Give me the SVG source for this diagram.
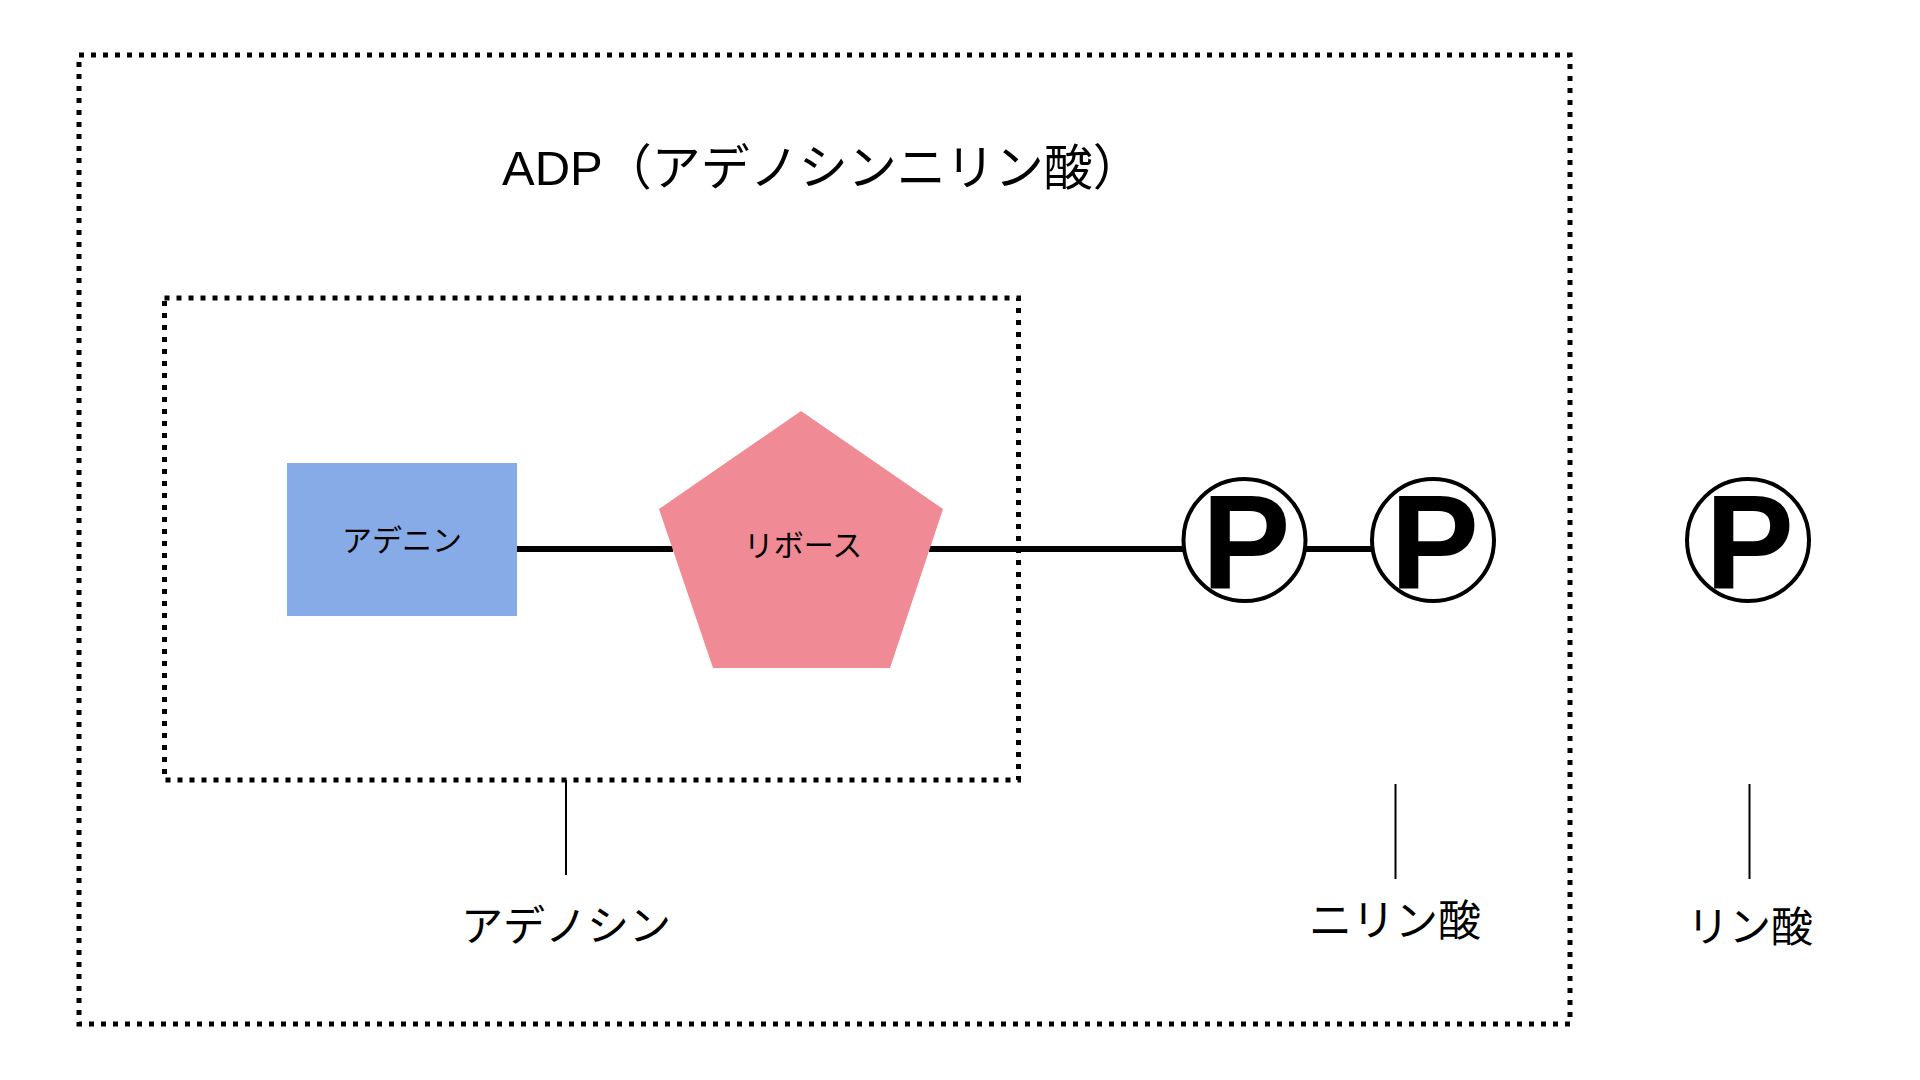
<svg xmlns="http://www.w3.org/2000/svg" width="1920" height="1080" viewBox="0 0 1920 1080">
<style>
.dot{fill:none;stroke:#000;stroke-width:5;stroke-dasharray:5 7}
.edge{stroke:#000;stroke-width:6;fill:none}
.tick{stroke:#000;stroke-width:2;fill:none}
.jp{font-family:"Liberation Sans","Noto Sans CJK JP",sans-serif;fill:#000}
.pc{fill:#fff;stroke:#000;stroke-width:4}
.pt{font-family:"Liberation Sans","Noto Sans CJK JP",sans-serif;font-weight:bold;font-size:133px;text-anchor:middle;fill:#000}
</style>
<rect width="1920" height="1080" fill="#fff"/>
<g id="adp-group">
<rect class="dot" x="79" y="55" width="1491" height="969"/>
<text class="jp" x="502" y="185" font-size="49">ADP（アデノシンニリン酸）</text>
</g>
<g id="adenosine-group">
<rect class="dot" x="164.5" y="298" width="854" height="482"/>
</g>
<g id="connectors">
<line class="edge" x1="517" y1="549" x2="673" y2="549"/>
<line class="edge" x1="929" y1="549" x2="1184" y2="549"/>
<line class="edge" x1="1305" y1="549" x2="1373" y2="549"/>
<line class="tick" x1="566" y1="780" x2="566" y2="875"/>
<line class="tick" x1="1395.5" y1="784" x2="1395.5" y2="879"/>
<line class="tick" x1="1749.5" y1="784" x2="1749.5" y2="879"/>
</g>
<g id="adenine">
<rect x="287" y="463" width="230" height="153" fill="#86ABE6"/>
<text class="jp" x="402" y="551" font-size="30" text-anchor="middle">アデニン</text>
</g>
<g id="ribose">
<polygon points="801,411 943,509 890,668 713,668 659,509" fill="#F08B95"/>
<text class="jp" x="803" y="556" font-size="30" text-anchor="middle">リボース</text>
</g>
<g id="phosphate1">
<circle class="pc" cx="1244.5" cy="540" r="61"/>
<text class="pt" x="1246" y="588">P</text>
</g>
<g id="phosphate2">
<circle class="pc" cx="1433" cy="540" r="61"/>
<text class="pt" x="1434.5" y="588">P</text>
</g>
<g id="phosphate3">
<circle class="pc" cx="1748" cy="540" r="61"/>
<text class="pt" x="1749.5" y="588">P</text>
</g>
<g id="label-adenosine">
<text class="jp" x="566" y="941" font-size="42" text-anchor="middle">アデノシン</text>
</g>
<g id="label-diphosphate">
<text class="jp" x="1395" y="936" font-size="43" text-anchor="middle">ニリン酸</text>
</g>
<g id="label-phosphate">
<text class="jp" x="1750" y="942" font-size="42" text-anchor="middle">リン酸</text>
</g>
</svg>
